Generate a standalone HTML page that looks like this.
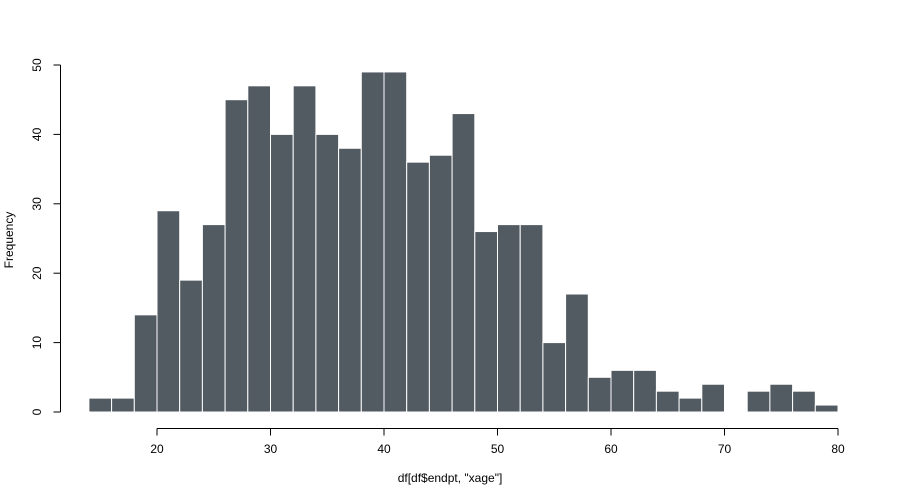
<!DOCTYPE html>
<html><head><meta charset="utf-8"><style>body{margin:0;background:#fff}svg{display:block;font-family:"Liberation Sans",Arial,sans-serif}</style></head>
<body>
<svg id="chart" width="900" height="500">
<g id="bars"></g>
<g id="axes"></g>
<text x="450" y="482" text-anchor="middle" font-size="12">df[df$endpt, "xage"]</text>
<text x="13" y="240" text-anchor="middle" font-size="12" transform="rotate(-90 13 240)">Frequency</text>
</svg>
<script>
const binStarts=[14,16,18,20,22,24,26,28,30,32,34,36,38,40,42,44,46,48,50,52,54,56,58,60,62,64,66,68,70,72,74,76,78];
const counts=[2,2,14,29,19,27,45,47,40,47,40,38,49,49,36,37,43,26,27,27,10,17,5,6,6,3,2,4,0,3,4,3,1];
const binWidth=2;
const xTicks=[20,30,40,50,60,70,80];
const yTicks=[0,10,20,30,40,50];
const NS='http://www.w3.org/2000/svg';
const xs=v=>157+(v-20)*(681/60);
const ys=v=>412-v*(347/50);
const bars=document.getElementById('bars'),axes=document.getElementById('axes');
binStarts.forEach((b,i)=>{
  if(counts[i]<=0)return;
  const r=document.createElementNS(NS,'rect');
  r.setAttribute('x',xs(b));r.setAttribute('y',ys(counts[i]));
  r.setAttribute('width',xs(b+binWidth)-xs(b));r.setAttribute('height',ys(0)-ys(counts[i]));
  r.setAttribute('fill','#525a62');r.setAttribute('stroke','#fff');r.setAttribute('stroke-width','1');
  
  
  bars.appendChild(r);
});
function line(x1,y1,x2,y2){const l=document.createElementNS(NS,'line');l.setAttribute('x1',x1);l.setAttribute('y1',y1);l.setAttribute('x2',x2);l.setAttribute('y2',y2);l.setAttribute('stroke','#000');axes.appendChild(l);return l;}
function text(x,y,s,rot){const t=document.createElementNS(NS,'text');t.setAttribute('x',x);t.setAttribute('y',y);t.setAttribute('font-size','12');t.setAttribute('text-anchor','middle');if(rot)t.setAttribute('transform','rotate(-90 '+x+' '+y+')');t.textContent=s;axes.appendChild(t);return t;}
const xa=line(xs(xTicks[0]),428.5,xs(xTicks[xTicks.length-1]),428.5);


xTicks.forEach(v=>{line(xs(v),428.5,xs(v),435.5);const t=text(xs(v),453,String(v));

});
const ya=line(60.5,ys(yTicks[0]),60.5,ys(yTicks[yTicks.length-1]));


yTicks.forEach(v=>{line(53.5,ys(v),60.5,ys(v));const t=text(41,ys(v),String(v),true);

});
</script>
</body></html>
